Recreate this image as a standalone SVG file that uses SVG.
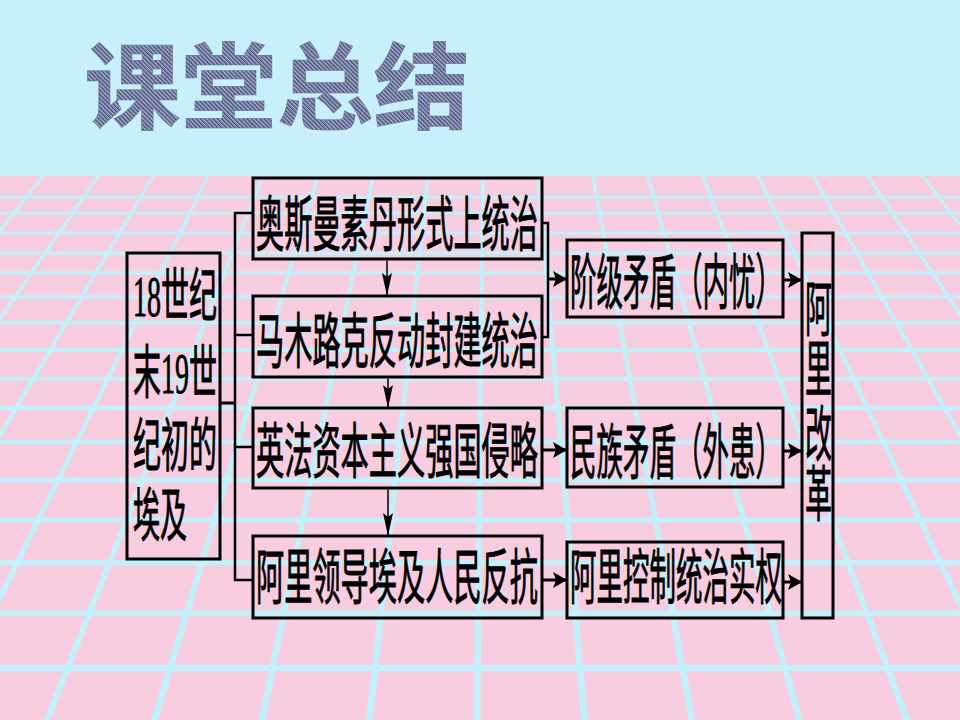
<svg xmlns="http://www.w3.org/2000/svg" width="960" height="720" viewBox="0 0 960 720">
<defs>
<style>
.grid{fill:#c3f1fb}
.hl{stroke:#c3f1fb;fill:none}
.box{fill:none;stroke:#000;stroke-width:3}
.t{font-family:"Liberation Serif","Noto Sans CJK SC",serif;font-size:60px;fill:#000;stroke:#000;stroke-width:0.9}
.lt{font-family:"Liberation Serif","Noto Sans CJK SC",serif;font-size:58px;fill:#000;stroke:#000;stroke-width:0.9}
.ln{stroke:#000;fill:none;stroke-width:2.5}
.thin{stroke:#000;fill:none;stroke-width:1.5}
.thick{stroke:#000;fill:none;stroke-width:3}
</style>
<pattern id="hatch" patternUnits="userSpaceOnUse" width="3" height="3" patternTransform="rotate(-45)">
<rect width="3" height="3" fill="#aab1cd"/>
<rect width="1.5" height="3" fill="#454d7a"/>
</pattern>
<marker id="down" viewBox="0 0 23 10" refX="23" refY="5" markerWidth="23" markerHeight="10" markerUnits="userSpaceOnUse" orient="auto">
<path d="M0,0 L23,5 L0,10 L4,5 z" fill="#000"/>
</marker>
<marker id="arr" viewBox="0 0 14 16" refX="14" refY="8" markerWidth="14" markerHeight="16" markerUnits="userSpaceOnUse" orient="auto">
<path d="M0,0 L14,8 L0,16 L3,8 z" fill="#000"/>
</marker>
</defs>

<g id="background">
<rect x="0" y="0" width="960" height="720" fill="#c8f0fb"/>
<rect x="0" y="176" width="960" height="544" fill="#f9cde0"/>
<g class="grid">
<polygon points="41.2,176 44.8,176 -379.5,720 -386.5,720"/>
<polygon points="96.2,176 99.8,176 -272,720 -279,720"/>
<polygon points="151.2,176 154.8,176 -164.5,720 -171.5,720"/>
<polygon points="206.2,176 209.8,176 -57,720 -64,720"/>
<polygon points="261.2,176 264.8,176 50.5,720 43.5,720"/>
<polygon points="316.2,176 319.8,176 158,720 151,720"/>
<polygon points="371.2,176 374.8,176 265.5,720 258.5,720"/>
<polygon points="426.2,176 429.8,176 373,720 366,720"/>
<polygon points="481.2,176 484.8,176 480.5,720 473.5,720"/>
<polygon points="536.2,176 539.8,176 588,720 581,720"/>
<polygon points="591.2,176 594.8,176 695.5,720 688.5,720"/>
<polygon points="646.2,176 649.8,176 803,720 796,720"/>
<polygon points="701.2,176 704.8,176 910.5,720 903.5,720"/>
<polygon points="756.2,176 759.8,176 1018,720 1011,720"/>
<polygon points="811.2,176 814.8,176 1125.5,720 1118.5,720"/>
<polygon points="866.2,176 869.8,176 1233,720 1226,720"/>
<polygon points="921.2,176 924.8,176 1340.5,720 1333.5,720"/>
</g>
<g class="hl">
<line x1="0" y1="197" x2="960" y2="197" stroke-width="3"/>
<line x1="0" y1="213" x2="960" y2="213" stroke-width="3.1"/>
<line x1="0" y1="233" x2="960" y2="233" stroke-width="3.2"/>
<line x1="0" y1="253" x2="960" y2="253" stroke-width="3.3"/>
<line x1="0" y1="273" x2="960" y2="273" stroke-width="3.5"/>
<line x1="0" y1="297" x2="960" y2="297" stroke-width="3.6"/>
<line x1="0" y1="323" x2="960" y2="323" stroke-width="3.8"/>
<line x1="0" y1="350" x2="960" y2="350" stroke-width="4"/>
<line x1="0" y1="379" x2="960" y2="379" stroke-width="4.2"/>
<line x1="0" y1="408" x2="960" y2="408" stroke-width="4.4"/>
<line x1="0" y1="442" x2="960" y2="442" stroke-width="4.6"/>
<line x1="0" y1="480" x2="960" y2="480" stroke-width="4.9"/>
<line x1="0" y1="520" x2="960" y2="520" stroke-width="5.1"/>
<line x1="0" y1="563" x2="960" y2="563" stroke-width="5.4"/>
<line x1="0" y1="613" x2="960" y2="613" stroke-width="5.7"/>
<line x1="0" y1="668" x2="960" y2="668" stroke-width="6"/>
</g>
</g>

<g id="title">
<text x="84" y="122" textLength="386" lengthAdjust="spacingAndGlyphs" font-family="'Noto Sans CJK SC',sans-serif" font-weight="bold" font-size="94" fill="url(#hatch)" stroke="#6a7298" stroke-width="0.6">课堂总结</text>
</g>

<g id="connectors">
<path class="thick" d="M220,403 H235" stroke-width="4"/>
<path class="ln" d="M253,213 H235 V580 H253 M235,335 H253 M235,447 H253"/>
<line class="thin" x1="387" y1="260.5" x2="387" y2="296" marker-end="url(#down)"/>
<line class="thin" x1="388" y1="378.5" x2="388" y2="408" marker-end="url(#down)"/>
<line class="thin" x1="388" y1="489.5" x2="388" y2="536" marker-end="url(#down)"/>
<path class="ln" d="M542,223 H548 V337 H542"/>
<line class="thick" x1="548" y1="279" x2="567" y2="279" marker-end="url(#arr)"/>
<line class="thick" x1="542" y1="450" x2="567" y2="450" marker-end="url(#arr)"/>
<line class="thick" x1="542" y1="580" x2="567" y2="580" marker-end="url(#arr)"/>
<line class="thick" x1="783" y1="280" x2="802" y2="280" marker-end="url(#arr)"/>
<line class="thick" x1="783" y1="451" x2="802" y2="451" marker-end="url(#arr)"/>
<line class="thick" x1="783" y1="582" x2="802" y2="582" marker-end="url(#arr)"/>
</g>

<g id="node-egypt">
<rect class="box" x="127" y="253" width="93" height="306" stroke-width="2.5"/>
<text class="lt" x="133" y="316" textLength="84" lengthAdjust="spacingAndGlyphs">18世纪</text>
<text class="lt" x="133" y="393" textLength="84" lengthAdjust="spacingAndGlyphs">末19世</text>
<text class="lt" x="133" y="466" textLength="84" lengthAdjust="spacingAndGlyphs">纪初的</text>
<text class="lt" x="133" y="536" textLength="54" lengthAdjust="spacingAndGlyphs">埃及</text>
</g>

<g id="node-ottoman">
<rect class="box" x="253" y="178" width="289" height="81"/>
<text class="t" x="256" y="246" textLength="282" lengthAdjust="spacingAndGlyphs">奥斯曼素丹形式上统治</text>
</g>

<g id="node-mamluk">
<rect class="box" x="253" y="296" width="289" height="81"/>
<text class="t" x="256" y="363" textLength="282" lengthAdjust="spacingAndGlyphs">马木路克反动封建统治</text>
</g>

<g id="node-invasion">
<rect class="box" x="253" y="408" width="289" height="80"/>
<text class="t" x="256" y="473" textLength="282" lengthAdjust="spacingAndGlyphs">英法资本主义强国侵略</text>
</g>

<g id="node-resistance">
<rect class="box" x="253" y="536" width="289" height="82"/>
<text class="t" x="256" y="599" textLength="282" lengthAdjust="spacingAndGlyphs">阿里领导埃及人民反抗</text>
</g>

<g id="node-class">
<rect class="box" x="567" y="240" width="216" height="77"/>
<text class="t" x="570" y="304" textLength="212" lengthAdjust="spacingAndGlyphs">阶级矛盾（内忧）</text>
</g>

<g id="node-nation">
<rect class="box" x="567" y="408" width="216" height="79"/>
<text class="t" x="570" y="474" textLength="212" lengthAdjust="spacingAndGlyphs">民族矛盾（外患）</text>
</g>

<g id="node-power">
<rect class="box" x="567" y="542" width="216" height="76"/>
<text class="t" x="570" y="599" textLength="212" lengthAdjust="spacingAndGlyphs">阿里控制统治实权</text>
</g>

<g id="node-reform">
<rect class="box" x="802" y="233" width="31" height="385" stroke-width="2.5"/>
<text class="t" x="805" y="331" textLength="27" lengthAdjust="spacingAndGlyphs">阿</text>
<text class="t" x="805" y="391" textLength="27" lengthAdjust="spacingAndGlyphs">里</text>
<text class="t" x="805" y="456" textLength="27" lengthAdjust="spacingAndGlyphs">改</text>
<text class="t" x="805" y="516" textLength="27" lengthAdjust="spacingAndGlyphs">革</text>
</g>
</svg>
